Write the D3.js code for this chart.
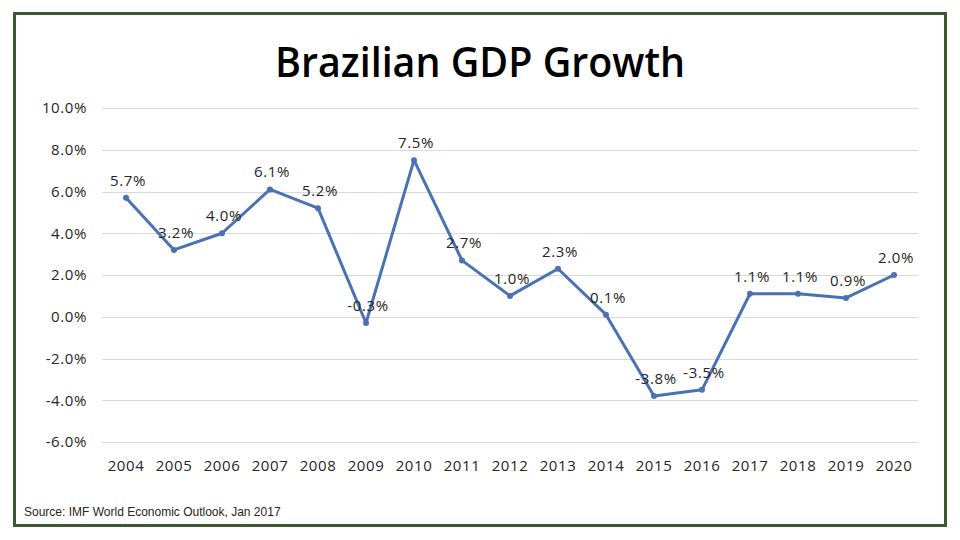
<!DOCTYPE html>
<html>
<head>
<meta charset="utf-8">
<script src="https://cdnjs.cloudflare.com/ajax/libs/d3/7.8.5/d3.min.js"></script>
<style>
  html, body { margin: 0; padding: 0; background: #ffffff; }
  svg { display: block; }
</style>
</head>
<body>
<script>
const years = ["2004","2005","2006","2007","2008","2009","2010","2011","2012","2013","2014","2015","2016","2017","2018","2019","2020"];
const growth = [5.7, 3.2, 4.0, 6.1, 5.2, -0.3, 7.5, 2.7, 1.0, 2.3, 0.1, -3.8, -3.5, 1.1, 1.1, 0.9, 2.0];
const yTicks = [-6, -4, -2, 0, 2, 4, 6, 8, 10];
const title = "Brazilian GDP Growth";
const source = "Source: IMF World Economic Outlook, Jan 2017";

const W = 960, H = 540;
const svg = d3.select("body").append("svg").attr("width", W).attr("height", H);

// frame
svg.append("rect").attr("x", 14.5).attr("y", 13.5).attr("width", 931).attr("height", 512)
  .attr("fill", "#ffffff").attr("stroke", "#3e5a30").attr("stroke-width", 3);

const x = d3.scaleBand().domain(years).range([102, 918]);
const y = d3.scaleLinear().domain([-6, 10]).range([442, 108]);

// gridlines
svg.append("g").selectAll("line").data(yTicks).join("line")
  .attr("x1", 102).attr("x2", 918)
  .attr("y1", d => Math.round(y(d)) + 0.5).attr("y2", d => Math.round(y(d)) + 0.5)
  .attr("stroke", "#d9d9d9").attr("stroke-width", 1);

const textFont = "'Open Sans', sans-serif";
const fs = 15;

// y axis labels
const yAxis = d3.axisLeft(y).tickValues(yTicks).tickSize(0).tickPadding(0)
  .tickFormat(d => d.toFixed(1) + "%");
const gy = svg.append("g").attr("transform", "translate(87,0)").call(yAxis);
gy.select(".domain").remove();
gy.selectAll("text").attr("font-family", textFont).attr("font-size", fs)
  .attr("letter-spacing", "0.6px").attr("fill", "#262626");

// x axis labels
const xAxis = d3.axisBottom(x).tickSize(0).tickPadding(0);
const gx = svg.append("g").attr("transform", "translate(0,460)").call(xAxis);
gx.select(".domain").remove();
gx.selectAll("text").attr("font-family", textFont).attr("font-size", fs)
  .attr("letter-spacing", "0.6px").attr("fill", "#262626");

// line
const cx = d => x(d) + x.bandwidth() / 2;
const line = d3.line().x((d, i) => cx(years[i])).y(d => y(d));
svg.append("path").datum(growth).attr("d", line)
  .attr("fill", "none").attr("stroke", "#4a72b2").attr("stroke-width", 3)
  .attr("stroke-linejoin", "round");

svg.append("g").selectAll("circle").data(growth).join("circle")
  .attr("cx", (d, i) => cx(years[i])).attr("cy", d => y(d)).attr("r", 3)
  .attr("fill", "#4a72b2");

// data labels
svg.append("g").selectAll("text").data(growth).join("text")
  .attr("x", (d, i) => cx(years[i]) + 2).attr("y", d => y(d) - 12)
  .attr("text-anchor", "middle")
  .attr("font-family", textFont).attr("font-size", fs).attr("letter-spacing", "0.6px")
  .attr("fill", "#262626")
  .text(d => d.toFixed(1) + "%");

// title
svg.append("text").attr("x", 480).attr("y", 77).attr("text-anchor", "middle")
  .attr("font-family", "'Open Sans', sans-serif").attr("font-weight", 600).attr("font-size", 41)
  .attr("textLength", 410).attr("lengthAdjust", "spacingAndGlyphs")
  .attr("fill", "#000000").text(title);

// source
svg.append("text").attr("x", 24).attr("y", 516)
  .attr("font-family", "'Liberation Sans', Arial, sans-serif").attr("font-size", 12)
  .attr("fill", "#262626").text(source);
</script>
</body>
</html>
